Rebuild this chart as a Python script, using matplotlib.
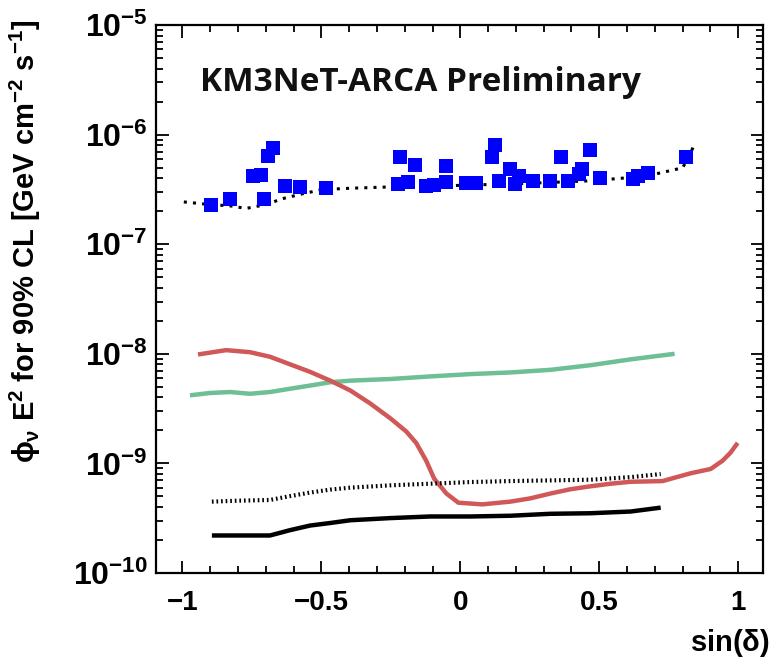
import matplotlib
matplotlib.use('Agg')
import matplotlib.pyplot as plt
import numpy as np
from matplotlib.ticker import LogLocator, MultipleLocator, FixedLocator, NullFormatter

# per-source upper limits (blue squares)
src_sindec = [-0.898, -0.829, -0.747, -0.716, -0.706, -0.692, -0.675, -0.630, -0.577, -0.483,
              -0.216, -0.223, -0.187, -0.163, -0.123, -0.094, -0.050, -0.050, 0.022, 0.058,
              0.115, 0.125, 0.140, 0.180, 0.197, 0.212, 0.262, 0.321, 0.363, 0.389,
              0.428, 0.437, 0.468, 0.502, 0.623, 0.641, 0.677, 0.812]
src_limit = [2.30e-7, 2.60e-7, 4.20e-7, 4.25e-7, 2.60e-7, 6.40e-7, 7.50e-7, 3.42e-7, 3.35e-7, 3.24e-7,
             6.30e-7, 3.54e-7, 3.71e-7, 5.33e-7, 3.37e-7, 3.47e-7, 5.15e-7, 3.66e-7, 3.61e-7, 3.61e-7,
             6.30e-7, 8.04e-7, 3.79e-7, 4.81e-7, 3.54e-7, 4.20e-7, 3.79e-7, 3.79e-7, 6.30e-7, 3.79e-7,
             4.35e-7, 4.81e-7, 7.26e-7, 4.06e-7, 3.92e-7, 4.20e-7, 4.44e-7, 6.30e-7]

# point-source sensitivity (upper dotted)
sens_x = [-0.995, -0.901, -0.829, -0.771, -0.699, -0.641, -0.569, -0.497, -0.396, -0.223,
          -0.108, 0.036, 0.180, 0.324, 0.468, 0.613, 0.699, 0.800, 0.822, 0.843]
sens_y = [2.43e-7, 2.30e-7, 2.24e-7, 2.12e-7, 2.30e-7, 2.60e-7, 2.88e-7, 3.15e-7, 3.24e-7, 3.35e-7,
          3.37e-7, 3.47e-7, 3.54e-7, 3.66e-7, 3.79e-7, 4.06e-7, 4.35e-7, 4.98e-7, 6.30e-7, 8.20e-7]

# red curve
red_x = [-0.944, -0.843, -0.757, -0.685, -0.613, -0.541, -0.468, -0.396, -0.324, -0.252,
         -0.195, -0.159, -0.123, -0.094, -0.050, -0.007, 0.079, 0.180, 0.252, 0.324,
         0.396, 0.468, 0.541, 0.613, 0.728, 0.757, 0.829, 0.901, 0.944, 0.973, 0.998]
red_y = [9.86e-9, 1.08e-8, 1.035e-8, 9.4e-9, 8.02e-9, 6.85e-9, 5.69e-9, 4.63e-9, 3.52e-9, 2.58e-9,
         1.96e-9, 1.54e-9, 1.06e-9, 7.25e-10, 5.31e-10, 4.38e-10, 4.23e-10, 4.48e-10, 4.8e-10, 5.31e-10,
         5.81e-10, 6.18e-10, 6.53e-10, 6.8e-10, 6.9e-10, 7.24e-10, 8.13e-10, 8.9e-10, 1.06e-9, 1.26e-9, 1.54e-9]

# green curve
green_x = [-0.973, -0.901, -0.829, -0.757, -0.685, -0.613, -0.541, -0.468, -0.396, -0.252,
           -0.108, 0.036, 0.180, 0.324, 0.468, 0.613, 0.771]
green_y = [4.18e-9, 4.39e-9, 4.48e-9, 4.32e-9, 4.48e-9, 4.8e-9, 5.13e-9, 5.5e-9, 5.69e-9, 5.89e-9,
           6.22e-9, 6.53e-9, 6.76e-9, 7.14e-9, 7.87e-9, 8.9e-9, 1.0e-8]

# lower dotted curve
dot_x = [-0.894, -0.800, -0.685, -0.613, -0.541, -0.468, -0.396, -0.252, -0.108, 0.036,
         0.180, 0.324, 0.468, 0.613, 0.721]
dot_y = [4.48e-10, 4.57e-10, 4.64e-10, 5.03e-10, 5.42e-10, 5.77e-10, 6.01e-10, 6.31e-10, 6.53e-10, 6.76e-10,
         6.9e-10, 7.0e-10, 7.1e-10, 7.5e-10, 8.0e-10]

# lower solid curve
solid_x = [-0.894, -0.685, -0.613, -0.541, -0.468, -0.396, -0.252, -0.108, 0.036, 0.180,
           0.324, 0.468, 0.613, 0.721]
solid_y = [2.2e-10, 2.2e-10, 2.46e-10, 2.71e-10, 2.86e-10, 3.03e-10, 3.17e-10, 3.28e-10, 3.28e-10, 3.33e-10,
           3.47e-10, 3.51e-10, 3.64e-10, 3.95e-10]

y_major = [1e-10, 1e-9, 1e-8, 1e-7, 1e-6, 1e-5]

plt.rcParams['font.family'] = ['Liberation Sans', 'DejaVu Sans']
plt.rcParams['mathtext.fontset'] = 'custom'
plt.rcParams['mathtext.rm'] = 'Liberation Sans:bold'
plt.rcParams['mathtext.it'] = 'Liberation Sans:bold'
plt.rcParams['mathtext.bf'] = 'Liberation Sans:bold'

fig = plt.figure(figsize=(7.74, 6.72), dpi=100)
ax = fig.add_axes([0.2016, 0.1473, 0.7845, 0.8155])

ax.plot(green_x, green_y, color='#6dbf96', lw=3.2, solid_capstyle='butt')
ax.plot(red_x, red_y, color='#d05858', lw=3.2, solid_capstyle='butt')
ax.plot(solid_x, solid_y, color='black', lw=3.2, solid_capstyle='butt')
ax.plot(dot_x, dot_y, color='black', lw=3.0, linestyle=(0, (0.4, 0.7)))
ax.plot(sens_x, sens_y, color='black', lw=2.2, linestyle=(0, (1.0, 2.0)))
ax.plot(src_sindec, src_limit, linestyle='none', marker='s', markersize=10,
        color='#0000ff', markeredgewidth=0)

ax.set_yscale('log')
ax.set_xlim(-1.095, 1.09)
ax.set_ylim(1e-10, 1e-5)

ax.xaxis.set_major_locator(FixedLocator([-1, -0.5, 0, 0.5, 1]))
ax.xaxis.set_minor_locator(MultipleLocator(0.1))
ax.xaxis.set_minor_formatter(NullFormatter())
ax.set_xticklabels(['\u22121', '\u22120.5', '0', '0.5', '1'])
ax.yaxis.set_major_locator(FixedLocator(y_major))
ax.set_yticklabels([r'$10^{%d}$' % int(round(np.log10(v))) for v in y_major])
ax.yaxis.set_minor_locator(LogLocator(base=10, subs=np.arange(2, 10), numticks=20))
ax.yaxis.set_minor_formatter(NullFormatter())

ax.tick_params(which='both', direction='in', top=True, right=True, width=1.3)
ax.tick_params(which='major', length=9)
ax.tick_params(which='minor', length=5)
ax.tick_params(axis='x', labelsize=20, pad=12)
ax.tick_params(axis='y', labelsize=23, pad=6)
for lab in ax.get_xticklabels() + ax.get_yticklabels():
    lab.set_fontweight('bold')
for sp in ax.spines.values():
    sp.set_linewidth(1.6)

fig.text(0.033, 0.97, r'$\phi_{\nu}$ E$^{2}$ for 90% CL [GeV cm$^{-2}$ s$^{-1}$]',
         rotation=90, ha='center', va='top', fontsize=21, fontweight='bold')
fig.text(0.995, 0.02, r'sin($\delta$)', ha='right', va='bottom', fontsize=21, fontweight='bold')

ax.text(0.072, 0.895, 'KM3NeT-ARCA Preliminary', transform=ax.transAxes,
        fontsize=24, fontweight='bold', family=['Open Sans', 'DejaVu Sans'], color='#111111',
        va='center', ha='left')

fig.savefig('out.png', dpi=100)
